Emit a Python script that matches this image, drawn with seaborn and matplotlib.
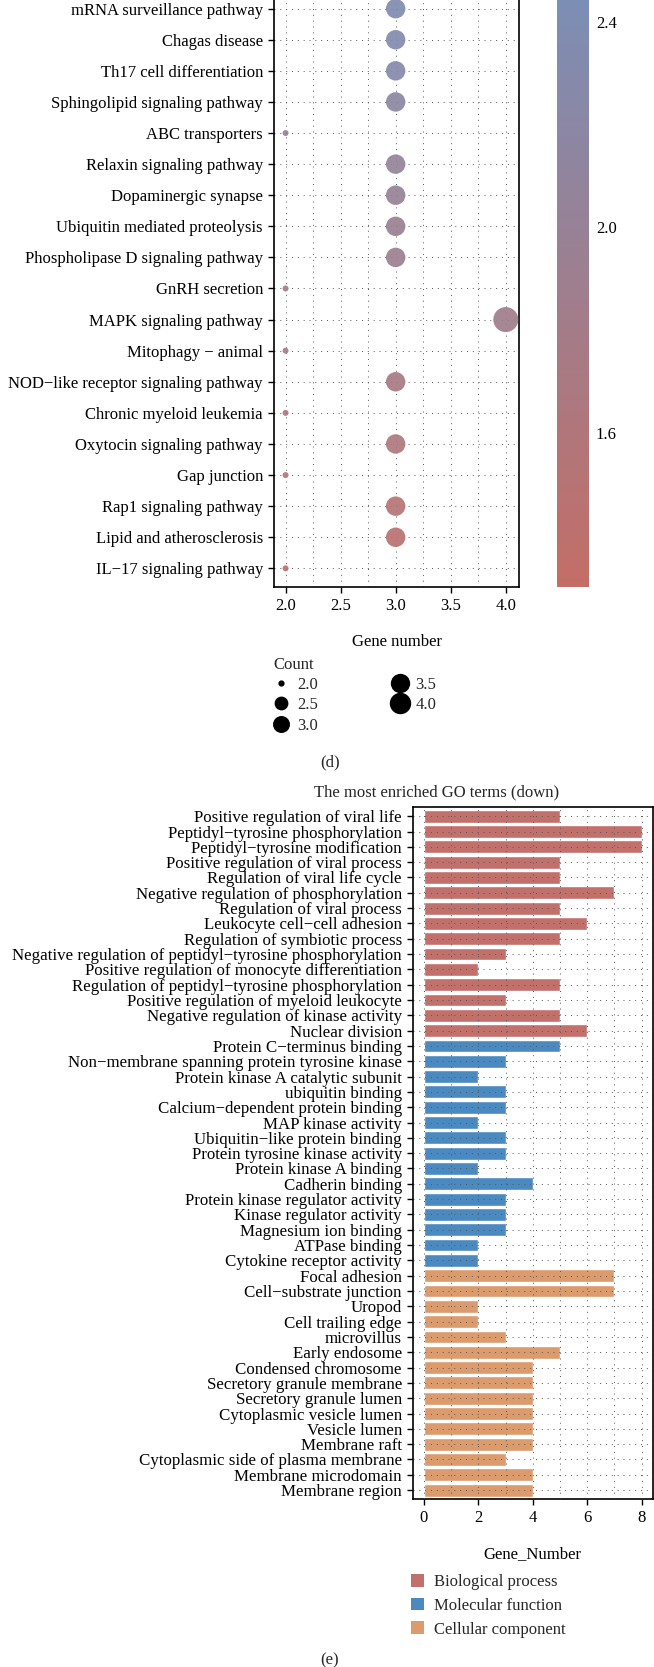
import matplotlib
matplotlib.use("Agg")
import matplotlib.pyplot as plt
import matplotlib.colors as mcolors
from matplotlib.lines import Line2D
from matplotlib.patches import Patch
from matplotlib.ticker import MultipleLocator
import seaborn as sns
import pandas as pd
import numpy as np

sns.set_theme(style="white")
plt.rcParams['font.family'] = ['Liberation Serif', 'DejaVu Serif']

M = "\u2212"

# (d) KEGG pathways, listed top to bottom as in the figure
pathways = [
    "mRNA surveillance pathway", "Chagas disease", "Th17 cell differentiation",
    "Sphingolipid signaling pathway", "ABC transporters", "Relaxin signaling pathway",
    "Dopaminergic synapse", "Ubiquitin mediated proteolysis",
    "Phospholipase D signaling pathway", "GnRH secretion", "MAPK signaling pathway",
    "Mitophagy " + M + " animal", "NOD" + M + "like receptor signaling pathway",
    "Chronic myeloid leukemia", "Oxytocin signaling pathway", "Gap junction",
    "Rap1 signaling pathway", "Lipid and atherosclerosis", "IL" + M + "17 signaling pathway",
]
gene_number = [3, 3, 3, 3, 2, 3, 3, 3, 3, 2, 4, 2, 3, 2, 3, 2, 3, 3, 2]
enrich_score = [2.38, 2.33, 2.28, 2.18, 2.04, 2.04, 2.00, 1.96, 1.92, 1.88,
                1.84, 1.79, 1.73, 1.68, 1.63, 1.58, 1.51, 1.46, 1.41]
count_levels = [2.0, 2.5, 3.0, 3.5, 4.0]
colorbar_ticks = [1.6, 2.0, 2.4]
score_range = (1.30, 2.52)

# (e) GO terms, top to bottom
go_terms = [
    "Positive regulation of viral life", "Peptidyl" + M + "tyrosine phosphorylation",
    "Peptidyl" + M + "tyrosine modification", "Positive regulation of viral process",
    "Regulation of viral life cycle", "Negative regulation of phosphorylation",
    "Regulation of viral process", "Leukocyte cell" + M + "cell adhesion",
    "Regulation of symbiotic process",
    "Negative regulation of peptidyl" + M + "tyrosine phosphorylation",
    "Positive regulation of monocyte differentiation",
    "Regulation of peptidyl" + M + "tyrosine phosphorylation",
    "Positive regulation of myeloid leukocyte", "Negative regulation of kinase activity",
    "Nuclear division",
    "Protein C" + M + "terminus binding", "Non" + M + "membrane spanning protein tyrosine kinase",
    "Protein kinase A catalytic subunit", "ubiquitin binding",
    "Calcium" + M + "dependent protein binding", "MAP kinase activity",
    "Ubiquitin" + M + "like protein binding", "Protein tyrosine kinase activity",
    "Protein kinase A binding", "Cadherin binding", "Protein kinase regulator activity",
    "Kinase regulator activity", "Magnesium ion binding", "ATPase binding",
    "Cytokine receptor activity",
    "Focal adhesion", "Cell" + M + "substrate junction", "Uropod", "Cell trailing edge",
    "microvillus", "Early endosome", "Condensed chromosome", "Secretory granule membrane",
    "Secretory granule lumen", "Cytoplasmic vesicle lumen", "Vesicle lumen",
    "Membrane raft", "Cytoplasmic side of plasma membrane", "Membrane microdomain",
    "Membrane region",
]
go_numbers = [5, 8, 8, 5, 5, 7, 5, 6, 5, 3, 2, 5, 3, 5, 6,
              5, 3, 2, 3, 3, 2, 3, 3, 2, 4, 3, 3, 3, 2, 2,
              7, 7, 2, 2, 3, 5, 4, 4, 4, 4, 4, 4, 3, 4, 4]
go_category = (["Biological process"] * 15 + ["Molecular function"] * 15
               + ["Cellular component"] * 15)
go_colors = {"Biological process": "#C1706B",
             "Molecular function": "#4B89C1",
             "Cellular component": "#DB9B6D"}

W, H = 654, 1667
fig = plt.figure(figsize=(W / 100, H / 100), dpi=100)


def box(left, top, right, bottom):
    return [left / W, 1 - bottom / H, (right - left) / W, (bottom - top) / H]


def diam_px(c):
    # ggplot-like area scale: diameter grows with sqrt of rescaled count
    return 6 + 19 * np.sqrt((c - 2.0) / 2.0)


grid_kw = dict(color="#555555", linestyle=(0, (1, 5)), linewidth=0.7)

# ---------------- (d) dot plot ----------------
ax1 = fig.add_axes(box(274, -10, 519, 587))
cmap = mcolors.LinearSegmentedColormap.from_list("kegg", ["#C36E66", "#7790BA"])
norm = mcolors.Normalize(*score_range)

df_d = pd.DataFrame({"Pathway": pathways[::-1], "Count": gene_number[::-1],
                     "Score": enrich_score[::-1]})
size_map = {c: (diam_px(c) * 0.72) ** 2 for c in sorted(set(gene_number))}
sns.scatterplot(data=df_d, x="Count", y="Pathway", hue="Score", size="Count",
                sizes=size_map, palette=cmap, hue_norm=norm, legend=False,
                linewidth=0, alpha=0.92, ax=ax1, zorder=3)
ax1.set_xlim(1.895, 4.12)
ax1.set_ylim(-0.6, len(pathways) - 0.4)
ax1.set_xticks([2.0, 2.5, 3.0, 3.5, 4.0])
ax1.set_xticklabels(["2.0", "2.5", "3.0", "3.5", "4.0"])
ax1.xaxis.set_minor_locator(MultipleLocator(0.25))
ax1.grid(which="both", axis="x", **grid_kw)
ax1.grid(which="major", axis="y", **grid_kw)
ax1.tick_params(axis="both", which="major", direction="out", length=4, width=1,
                color="black", labelsize=12, labelcolor="black", pad=4,
                bottom=True, left=True)
ax1.tick_params(axis="x", which="minor", length=0)
for s in ax1.spines.values():
    s.set_color("black")
    s.set_linewidth(1.2)
ax1.set_xlabel("Gene number", fontsize=12, labelpad=14, color="black")
ax1.set_ylabel("")

# colorbar
cax = fig.add_axes(box(557, -40, 589, 587))
sm = plt.cm.ScalarMappable(norm=norm, cmap=cmap)
cbar = fig.colorbar(sm, cax=cax)
cbar.outline.set_visible(False)
cbar.set_ticks(colorbar_ticks)
cbar.set_ticklabels([f"{t:.1f}" for t in colorbar_ticks])
cax.yaxis.set_ticks_position("both")
cax.tick_params(direction="in", color="white", length=5, width=1.2,
                labelsize=12, labelcolor="black", pad=5, labelleft=False,
                labelright=True)

# size legend
handles = [Line2D([], [], linestyle="", marker="o", color="black",
                  markersize=diam_px(c) * 0.72 * 0.8) for c in count_levels]
fig.legend(handles, [f"{c:.1f}" for c in count_levels], title="Count", ncol=2,
           loc="upper left", bbox_to_anchor=(273 / W, 1 - 657 / H), frameon=False,
           fontsize=12, title_fontsize=12, alignment="left", borderpad=0,
           borderaxespad=0, handlelength=1.0, handletextpad=0.45,
           columnspacing=4.4, labelspacing=0.25)

fig.text(330 / W, 1 - 762 / H, "(d)", ha="center", va="center", fontsize=12)

# ---------------- (e) GO bar chart ----------------
ax2 = fig.add_axes(box(413, 807, 652.5, 1499.3))
df_e = pd.DataFrame({"Term": go_terms, "Gene_Number": go_numbers,
                     "Category": go_category})
sns.barplot(data=df_e, x="Gene_Number", y="Term", hue="Category", order=go_terms,
            palette=go_colors, dodge=False, width=0.84, saturation=1,
            orient="h", legend=False, ax=ax2)
ax2.set_xlim(-0.4, 8.4)
ax2.set_ylim(len(go_terms) - 0.4, -0.6)
ax2.set_xticks([0, 2, 4, 6, 8])
ax2.xaxis.set_minor_locator(MultipleLocator(1))
ax2.set_axisbelow(False)
ax2.grid(which="both", axis="x", **grid_kw)
ax2.grid(which="major", axis="y", **grid_kw)
ax2.tick_params(axis="both", which="major", direction="out", length=4, width=1,
                color="black", labelsize=12, labelcolor="black", pad=4,
                bottom=True, left=True)
ax2.tick_params(axis="y", labelsize=12.2)
ax2.tick_params(axis="x", which="minor", length=0)
for s in ax2.spines.values():
    s.set_color("black")
    s.set_linewidth(1.2)
ax2.set_xlabel("Gene_Number", fontsize=12, labelpad=14, color="black")
ax2.set_ylabel("")

fig.text(437 / W, 1 - 792 / H, "The most enriched GO terms (down)", ha="center",
         va="center", fontsize=12)

go_handles = [Patch(facecolor=go_colors[k], edgecolor="none") for k in go_colors]
fig.legend(go_handles, list(go_colors), loc="upper left",
           bbox_to_anchor=(411 / W, 1 - 1574 / H), frameon=False, fontsize=12,
           borderpad=0, borderaxespad=0, handlelength=0.8, handleheight=0.8,
           handletextpad=0.6, labelspacing=0.45)

fig.text(330 / W, 1 - 1660 / H, "(e)", ha="center", va="center", fontsize=12)

fig.savefig("out.png", dpi=100)
